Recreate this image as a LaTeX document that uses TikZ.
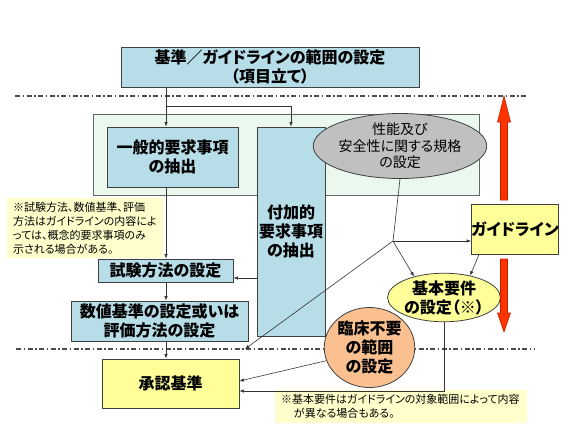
\documentclass[tikz,border=0pt]{standalone}
\usepackage{fontspec}
\setmainfont{Noto Sans CJK JP}[RawFeature=+palt]
\usetikzlibrary{arrows.meta,calc,shapes.geometric}
\definecolor{boxblue}{HTML}{B7DDE8}
\definecolor{panelgreen}{HTML}{EAF8EE}
\definecolor{ellgray}{HTML}{C0C0C0}
\definecolor{guideyellow}{HTML}{FFFF99}
\definecolor{noteyellow}{HTML}{FFFFCC}
\definecolor{clinorange}{HTML}{FAC090}
\definecolor{arrowred}{HTML}{FF3300}
\definecolor{arrowdark}{HTML}{C02000}

\begin{document}
\begin{tikzpicture}[x=1pt,y=-1pt,
    box/.style={draw=black!75,fill=boxblue,line width=0.8pt,inner sep=0pt,align=center,font=\fontsize{16}{19}\selectfont\bfseries},
    oval/.style={ellipse,draw=black!75,line width=0.8pt,inner sep=0pt,align=center,font=\fontsize{16}{19}\selectfont\bfseries},
    note/.style={fill=noteyellow,inner xsep=6pt,inner ysep=0pt,align=left,font=\fontsize{11}{14}\selectfont},
    conn/.style={draw=black!80,line width=0.6pt},
    arr/.style={conn,-{Latex[length=4.5pt,width=3.5pt]}},
    chain/.style={draw=black!70,line width=1.1pt,dash pattern=on 5pt off 2.5pt on 1.5pt off 2.5pt}]
    \useasboundingbox (0,0) rectangle (576,432);
    \draw[chain] (15,96) -- (527,96);
    \draw[chain] (16,349) -- (535,349);
    \filldraw[fill=panelgreen,draw=black!60,line width=0.8pt] (93,114) rectangle (479,195);
    \node[box,minimum width=298pt,minimum height=40pt] (scope) at (270,67) {基準／ガイドラインの範囲の設定\\（項目立て）};
    \node[box,minimum width=131pt,minimum height=60pt] (general) at (172.5,157) {一般的要求事項\\の抽出};
    \node[box,minimum width=68pt,minimum height=209pt] (extra) at (291,231.5) {付加的\\要求事項\\の抽出};
    \node[oval,fill=ellgray,minimum width=138pt,minimum height=54pt,font=\fontsize{14}{16.5}\selectfont] (spec) at (400,146) {性能及び\\安全性に関する規格\\の設定};
    \node[box,fill=guideyellow,minimum width=82pt,minimum height=50pt] (guide) at (515,229) {ガイドライン};
    \node[oval,fill=guideyellow,minimum width=96pt,minimum height=47pt] (basic) at (444,297.5) {基本要件\\の設定（※）};
    \node[oval,fill=clinorange,minimum width=81pt,minimum height=80pt] (noclin) at (369.5,347.5) {臨床不要\\の範囲\\の設定};
    \node[box,minimum width=135pt,minimum height=23pt] (testm) at (165.5,270.5) {試験方法の設定};
    \node[box,minimum width=177pt,minimum height=40pt] (numval) at (159.5,321) {数値基準の設定或いは\\評価方法の設定};
    \node[box,fill=guideyellow,minimum width=137pt,minimum height=49pt] (approval) at (170.5,383.5) {承認基準};
    \node[note,text width=144pt,minimum height=60pt] (note1) at (85,228) {※試験方法、数値基準、評価\\方法はガイドラインの内容によ\\っては、概念的要求事項のみ\\示される場合がある。};
    \node[note,text width=240pt,minimum height=33pt] (note2) at (401,406.5) {※基本要件はガイドラインの対象範囲によって内容\\\hspace*{13pt}が異なる場合もある。};
    \filldraw[fill=arrowred,draw=arrowdark,line width=0.6pt] (500.5,200) -- (500.5,122) -- (497.5,122) -- (504,96) -- (510.5,122) -- (507.5,122) -- (507.5,200) -- cycle;
    \filldraw[fill=arrowred,draw=arrowdark,line width=0.6pt] (500.5,259) -- (500.5,313) -- (497.5,313) -- (504,332) -- (510.5,313) -- (507.5,313) -- (507.5,259) -- cycle;
    \coordinate (split) at (166,106);
    \coordinate (hub) at (393,241);
    \coordinate (lowtip) at (245,349);
    \draw[conn] (scope.south -| split) -- (split);
    \draw[arr] (split) -- (split |- general.north);
    \draw[arr] (split) -| (extra.north);
    \draw[arr] (general.south -| split) -- (split |- testm.north);
    \draw[arr] (testm.south -| split) -- (split |- numval.north);
    \draw[arr] (numval.south -| split) -- (split |- approval.north);
    \draw[arr] (extra.west |- 0,278) -- (testm.east |- 0,278);
    \draw[conn] (spec.south) -- (hub);
    \draw[arr] (hub) -- (hub -| guide.west);
    \draw[arr] (hub) -- (basic.145);
    \draw[arr] (hub) -- (lowtip);
    \draw[arr] ([xshift=8pt]guide.south west) -- (basic.40);
    \draw[arr] (basic.south) |- ([yshift=-7.5pt]approval.east);
    \draw[arr] (noclin.197) -- ([yshift=2.5pt]approval.east);
\end{tikzpicture}
\end{document}
